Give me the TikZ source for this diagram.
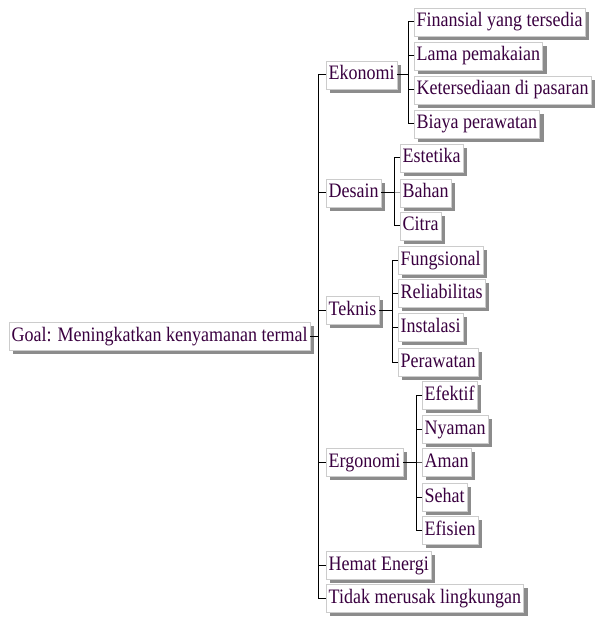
\documentclass[tikz,border=0pt]{standalone}
\usepackage{fontspec}
\setmainfont{Liberation Serif}
\usepackage{graphicx}
\usepackage{tikz}
\usetikzlibrary{shadows}
\definecolor{ink}{RGB}{58,0,64}
\newcommand{\tall}[1]{\scalebox{1}[1.14]{#1}}

\tikzset{
  item/.style={draw=black!20, fill=white, text=ink, anchor=west,
    font=\fontsize{18}{20}\selectfont, inner xsep=2.5pt, inner ysep=5pt,
    text height=14pt, text depth=4pt,
    drop shadow={shadow xshift=4pt, shadow yshift=-4pt, fill=black!45, opacity=1}},
  link/.style={draw=black, line width=1pt}
}

\begin{document}
\begin{tikzpicture}[x=1pt,y=-1pt]
  \useasboundingbox (0,0) rectangle (607,617);
  % root
  \node[item] (goal) at (9,336) {\tall{Goal: Meningkatkan kenyamanan termal}};
  \coordinate (trunk) at (318,336);
  % first level
  \foreach \n/\y/\t in {ekonomi/75/Ekonomi, desain/193/Desain, teknis/310/Teknis,
      ergonomi/462/Ergonomi, hemat/565/Hemat Energi, tidak/598/Tidak merusak lingkungan}
  {
    \node[item] (\n) at (326,\y) {\tall{\t}};
    \draw[link] (trunk) |- (\n.west);
  }
  \draw[link] (goal.east) -- (trunk);
  % Ekonomi
  \foreach \n/\y/\t in {fin/22/Finansial yang tersedia, lama/56/Lama pemakaian,
      sedia/90/Ketersediaan di pasaran, biaya/124/Biaya perawatan}
  {
    \node[item] (\n) at (414,\y) {\tall{\t}};
    \draw[link] (\n.west) -- ++(-6,0) |- (ekonomi.east);
  }
  % Desain
  \foreach \n/\y/\t in {estetika/158/Estetika, bahan/193/Bahan, citra/226/Citra}
  {
    \node[item] (\n) at (400,\y) {\tall{\t}};
    \draw[link] (\n.west) -- ++(-6,0) |- (desain.east);
  }
  % Teknis
  \foreach \n/\y/\t in {fungsi/260/Fungsional, reliab/293/Reliabilitas,
      instal/327/Instalasi, rawat/362/Perawatan}
  {
    \node[item] (\n) at (398,\y) {\tall{\t}};
    \draw[link] (\n.west) -- ++(-6,0) |- (teknis.east);
  }
  % Ergonomi
  \foreach \n/\y/\t in {efektif/395/Efektif, nyaman/429/Nyaman, aman/462/Aman,
      sehat/497/Sehat, efisien/530/Efisien}
  {
    \node[item] (\n) at (422,\y) {\tall{\t}};
    \draw[link] (\n.west) -- ++(-6,0) |- (ergonomi.east);
  }
\end{tikzpicture}
\end{document}
